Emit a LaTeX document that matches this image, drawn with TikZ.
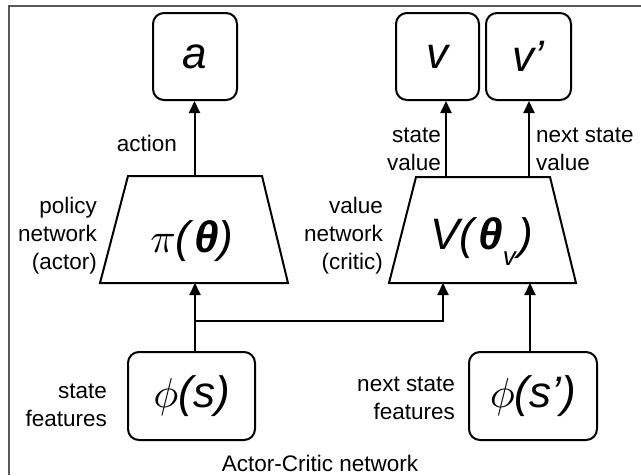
\documentclass[tikz,border=0pt]{standalone}
\usepackage{graphicx}
\usepackage{fontspec}
\setmainfont{Liberation Sans}
\usetikzlibrary{arrows.meta}
\newcommand{\mysym}[1]{\scalebox{4.2}{\normalsize$#1$}}
\tikzset{
  lbl/.style={font=\fontsize{22.5}{28}\selectfont, inner sep=0pt},
  bigtxt/.style={font=\fontsize{44}{48}\selectfont, inner sep=0pt},
  outbox/.style={draw, line width=2pt, rounded corners=11pt, inner sep=0pt, font=\fontsize{44}{48}\selectfont},
  netshape/.style={draw, line width=2pt, line join=miter},
  conn/.style={line width=2pt, -{Triangle[length=12pt,width=11pt]}},
}
\begin{document}
\begin{tikzpicture}[x=1pt,y=-1pt]
\useasboundingbox (0,0) rectangle (641,475);
\draw[line width=2pt, draw=black!65] (9,475) -- (9,6) -- (641,6);
% output boxes
\node[outbox, minimum width=84pt, minimum height=87pt] (a) at (195,56.5) {\itshape a};
\node[outbox, minimum width=83pt, minimum height=87pt] (v) at (437.5,56.5) {\itshape v};
\node[outbox, minimum width=85pt, minimum height=87pt] (vp) at (528.5,56.5) {\itshape v’};
% networks
\draw[netshape] (128,176) -- (262,176) -- (288,283) -- (100,283) -- cycle;
\coordinate (pitop) at (194.5,176);
\coordinate (pibot) at (194.5,283);
\node[bigtxt] (pitext) at (192,241) {\mysym{\pi}\textit{(}{\bfseries\itshape θ}\textit{)}};
\draw[netshape] (416,177) -- (550,177) -- (576,283) -- (389,283) -- cycle;
\coordinate (Vtop) at (483,177);
\coordinate (Vbot) at (482.5,283);
\node[bigtxt] (Vtext) at (482,242) {\textit{V(}{\bfseries\itshape θ}\raisebox{-16pt}{\fontsize{26}{26}\selectfont\itshape v}\hspace{3pt}\textit{)}};
% feature boxes
\node[outbox, minimum width=127pt, minimum height=88pt] (phis) at (191.5,396) {\mysym{\phi}\textit{(s)}};
\node[outbox, minimum width=128pt, minimum height=88pt] (phisp) at (533,396) {\mysym{\phi}\textit{(s’)}};
% labels
\node[lbl] (lact) at (147,143) {action};
\node[lbl, align=right, anchor=east] (lpol) at (97,236) {policy\\network\\(actor)};
\node[lbl, align=right, anchor=east] (lval) at (383,236) {value\\network\\(critic)};
\node[lbl, align=right, anchor=east] (lsv) at (441,149) {state\\value};
\node[lbl, align=left, anchor=west] (lnsv) at (536,149) {next state\\value};
\node[lbl, align=right, anchor=east] (lsf) at (107,405) {state\\features};
\node[lbl, align=right, anchor=east] (lnsf) at (455,398) {next state\\features};
\node[lbl] (title) at (320,463) {Actor-Critic network};
% connectors
\draw[conn] (pitop) -- (pitop |- a.south);
\draw[conn] ([xshift=-37pt]Vtop) -- ([xshift=-37pt]Vtop |- v.south);
\draw[conn] ([xshift=46pt]Vtop) -- ([xshift=46pt]Vtop |- vp.south);
\coordinate (br) at (195,321);
\draw[conn] (phis.north -| br) -- (br |- pibot);
\draw[conn] (br) -| ([xshift=-39.5pt]Vbot);
\draw[conn] ([xshift=-3pt]phisp.north) -- ([xshift=-3pt]phisp.north |- Vbot);
\end{tikzpicture}
\end{document}
